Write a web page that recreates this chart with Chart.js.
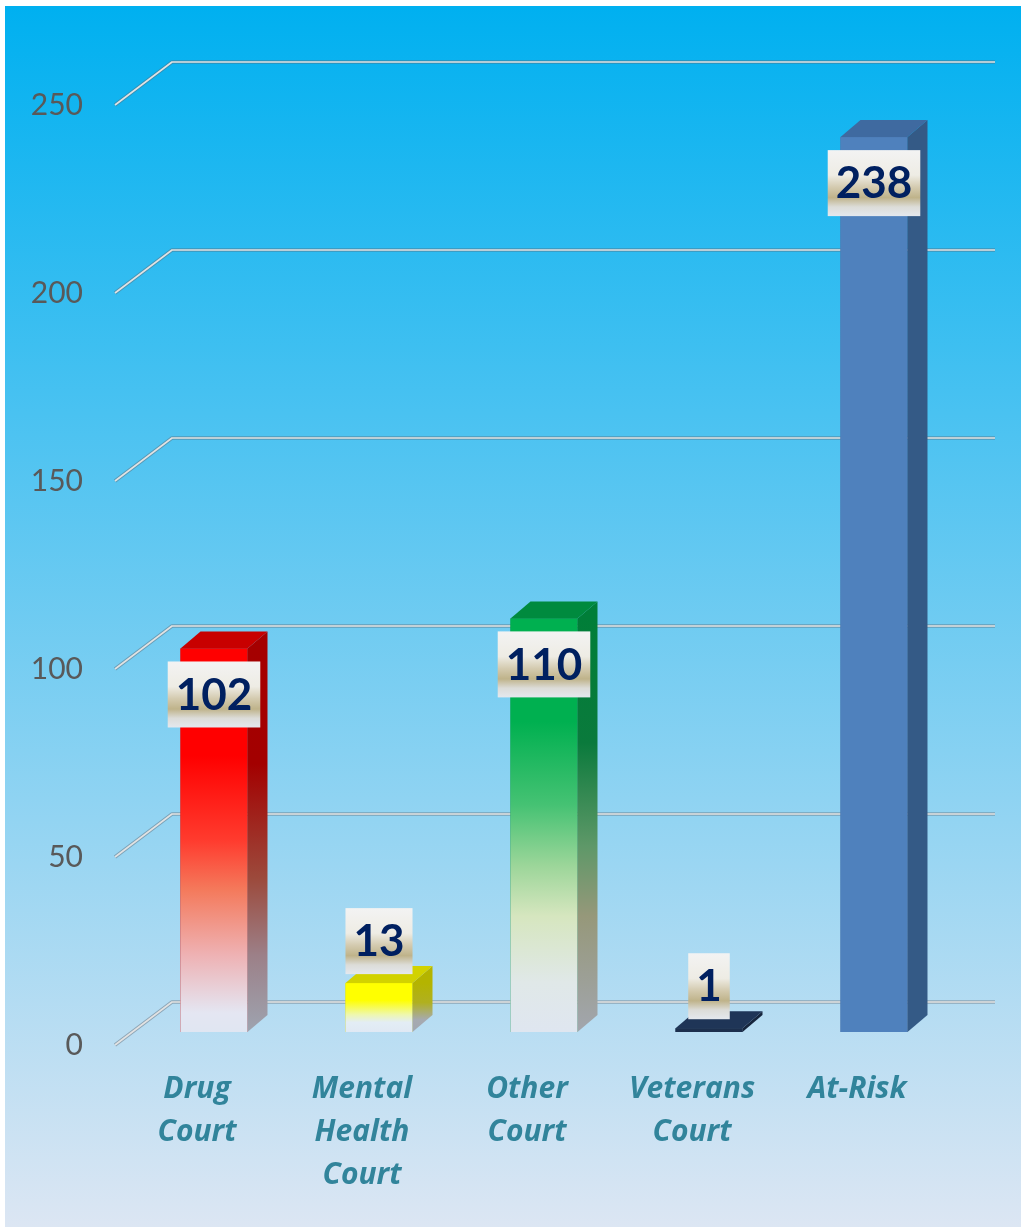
<!DOCTYPE html>
<html>
<head>
<meta charset="utf-8">
<script src="https://cdn.jsdelivr.net/npm/chart.js@4.4.1/dist/chart.umd.min.js"></script>
<style>
  html, body { margin: 0; padding: 0; background: #fff; overflow: hidden; }
  canvas { display: block; }
</style>
</head>
<body>
<canvas id="courtChart" width="1021" height="1227"></canvas>
<script>
// Chart data
const categories = [["Drug", "Court"], ["Mental", "Health", "Court"], ["Other", "Court"], ["Veterans", "Court"], "At-Risk"];
const participants = [102, 13, 110, 1, 238];
const yTicks = [0, 50, 100, 150, 200, 250];

// Bar looks: front gradient, side gradient, top face
const frontStops = [
    [[0, "#ff0000"], [0.28, "#ff0000"], [0.5, "#ff3b2e"], [0.63, "#f47a5c"], [0.8, "#eeb2b4"], [0.95, "#e4e6f2"], [1, "#e0e6f2"]],
    [[0, "#ffff00"], [0.35, "#ffff00"], [0.65, "#eef7b0"], [0.8, "#e3edf5"], [1, "#e0e9f4"]],
    [[0, "#00b050"], [0.25, "#00b050"], [0.45, "#45c273"], [0.6, "#9dd69a"], [0.72, "#d6e6bf"], [0.88, "#e0e8e8"], [1, "#dfe6f0"]],
    [[0, "#1c2f4d"], [1, "#1c2f4d"]],
    [[0, "#4f81bd"], [1, "#4f81bd"]]
];
const sideStops = [
    [[0, "#a50000"], [0.3, "#a30000"], [0.6, "#9c4a3c"], [0.8, "#9c8088"], [1, "#9ea4b0"]],
    [[0, "#b4b400"], [0.4, "#b0b020"], [0.75, "#a6aab0"], [1, "#a2a8b2"]],
    [[0, "#007e38"], [0.3, "#0a7a3c"], [0.55, "#5e9868"], [0.72, "#96987a"], [1, "#a2a6ae"]],
    [[0, "#16253d"], [1, "#16253d"]],
    [[0, "#345a86"], [1, "#345a86"]]
];
const topColors = ["#c80000", "#d2d200", "#008a3e", "#1f3557", "#3f6aa0"];

const DX = 20, DY = -17;          // bar depth
const FRONT_DROP = 13;            // front grid plane below bar plane
const WALL_DX = 57, WALL_DY = -43; // floor/wall depth

function makeGradient(ctx, y0, y1, stops) {
    const g = ctx.createLinearGradient(0, y0, 0, Math.max(y1, y0 + 1));
    stops.forEach(s => g.addColorStop(s[0], s[1]));
    return g;
}

const threeD = {
    id: "threeD",
    beforeDraw(chart) {
        const ctx = chart.ctx;
        ctx.save();
        ctx.fillStyle = "#ffffff";
        ctx.fillRect(0, 0, chart.width, chart.height);
        const bg = ctx.createLinearGradient(0, 6, 0, chart.height);
        bg.addColorStop(0, "#00b0f0");
        bg.addColorStop(1, "#dce6f3");
        ctx.fillStyle = bg;
        ctx.fillRect(5, 6, chart.width - 5, chart.height - 6);
        ctx.restore();
    },
    beforeDatasetsDraw(chart) {
        const ctx = chart.ctx;
        const y = chart.scales.y;
        const area = chart.chartArea;
        const fx = area.left - 16.5;
        const bx = fx + WALL_DX;
        const rx = area.right + 38.5;
        ctx.save();
        ctx.lineJoin = "round";
        yTicks.forEach(v => {
            const py = y.getPixelForValue(v) + FRONT_DROP;
            ctx.beginPath();
            ctx.moveTo(fx, py);
            ctx.lineTo(bx, py + WALL_DY);
            ctx.lineTo(rx, py + WALL_DY);
            ctx.strokeStyle = "rgba(90,100,110,0.45)";
            ctx.lineWidth = 3.5;
            ctx.stroke();
            ctx.strokeStyle = "#e2e2e2";
            ctx.lineWidth = 1.6;
            ctx.stroke();
        });
        ctx.restore();
    },
    afterDatasetsDraw(chart) {
        const ctx = chart.ctx;
        const meta = chart.getDatasetMeta(0);
        ctx.save();
        meta.data.forEach((bar, i) => {
            const l = bar.x - bar.width / 2;
            const r = bar.x + bar.width / 2;
            const t = bar.y;
            const b = bar.base;

            // front
            ctx.fillStyle = makeGradient(ctx, t, b, frontStops[i]);
            ctx.fillRect(l, t, r - l, b - t);

            // side
            ctx.beginPath();
            ctx.moveTo(r, t);
            ctx.lineTo(r + DX, t + DY);
            ctx.lineTo(r + DX, b + DY);
            ctx.lineTo(r, b);
            ctx.closePath();
            ctx.fillStyle = makeGradient(ctx, t, b, sideStops[i]);
            ctx.fill();

            // top
            ctx.beginPath();
            ctx.moveTo(l, t);
            ctx.lineTo(l + DX, t + DY);
            ctx.lineTo(r + DX, t + DY);
            ctx.lineTo(r, t);
            ctx.closePath();
            ctx.fillStyle = topColors[i];
            ctx.fill();
        });

        // value labels
        ctx.font = "bold 44px Lato";
        ctx.textAlign = "center";
        ctx.textBaseline = "middle";
        meta.data.forEach((bar, i) => {
            const txt = String(participants[i]);
            const w = ctx.measureText(txt).width + 16;
            const h = 66;
            const tall = bar.base - bar.y > 100;
            const cy = tall ? bar.y + 46 : bar.y - 42;
            const bx = bar.x - w / 2;
            const by = cy - h / 2;
            const g = ctx.createLinearGradient(0, by, 0, by + h);
            g.addColorStop(0, "#f3f3f3");
            g.addColorStop(0.38, "#eeece4");
            g.addColorStop(0.56, "#d4cbb0");
            g.addColorStop(0.72, "#bfb38a");
            g.addColorStop(0.86, "#dcdcd8");
            g.addColorStop(1, "#e4e8ee");
            ctx.fillStyle = g;
            ctx.fillRect(bx, by, w, h);
            ctx.fillStyle = "#002060";
            ctx.fillText(txt, bar.x, cy + 1);
        });
        ctx.restore();
    }
};

const ctx = document.getElementById("courtChart").getContext("2d");
new Chart(ctx, {
    type: "bar",
    data: {
        labels: categories,
        datasets: [{
            data: participants,
            backgroundColor: topColors,
            barPercentage: 0.406,
            categoryPercentage: 1
        }]
    },
    options: {
        responsive: false,
        animation: false,
        layout: { padding: { top: 92, right: 64.5, bottom: 31, left: 0 } },
        plugins: {
            legend: { display: false },
            tooltip: { enabled: false }
        },
        scales: {
            x: {
                afterFit: s => { s.height = 164; },
                grid: { display: false, drawTicks: false },
                border: { display: false },
                ticks: {
                    color: "#31849b",
                    font: { family: "Open Sans", size: 30, weight: "bold", style: "italic", lineHeight: 1.43 },
                    padding: 36,
                    labelOffset: -17,
                    maxRotation: 0,
                    autoSkip: false
                }
            },
            y: {
                min: 0,
                max: 250,
                afterBuildTicks: s => { s.ticks = yTicks.map(v => ({ value: v })); },
                afterFit: s => { s.width = 131.5; },
                grid: { display: false, drawTicks: false },
                border: { display: false },
                ticks: {
                    color: "#595959",
                    font: { family: "Lato", size: 30 },
                    padding: 48.5,
                    labelOffset: 13
                }
            }
        }
    },
    plugins: [threeD]
});
</script>
</body>
</html>
